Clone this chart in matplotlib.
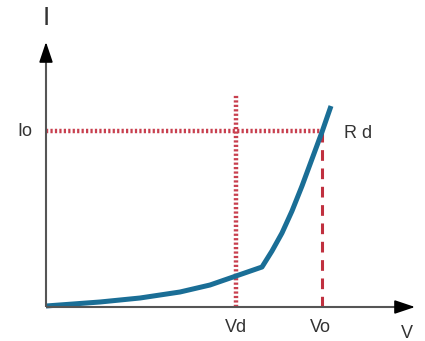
import matplotlib
matplotlib.use("Agg")
import matplotlib.pyplot as plt

plt.rcParams['font.family'] = ['Liberation Sans', 'DejaVu Sans']

# diode curve (offsets from the origin)
curve_v = [0, 54, 94, 134, 164, 190, 216, 226, 236, 246, 256, 266, 276, 285]
curve_i = [1, 5, 9, 15, 22, 31, 40, 56, 74, 96, 121, 148, 175, 201]

vd = 190
vo = 276
io = 176
vd_top = 213
v_end = 369
i_end = 265

blue = '#1a6e96'
red_dot = '#c8404f'
red_dash = '#c0303f'
axis_gray = '#555555'
text_col = '#333333'

fig = plt.figure(figsize=(4.25, 3.41), dpi=100)
ax = fig.add_axes([0, 0, 1, 1])
ax.set_xlim(-46, 379)
ax.set_ylim(-34, 307)
ax.axis('off')

# axes with arrow heads
ax.plot([0, v_end - 14], [0, 0], color=axis_gray, lw=1.5, solid_capstyle='butt', zorder=3)
ax.plot([0, 0], [0, i_end - 14], color=axis_gray, lw=1.5, solid_capstyle='butt', zorder=3)
ax.annotate('', xy=(v_end, 0), xytext=(v_end - 16, 0),
            arrowprops=dict(arrowstyle='-|>,head_length=1.25,head_width=0.42',
                            color='black', lw=1.2, shrinkA=0, shrinkB=0), zorder=4)
ax.annotate('', xy=(0, i_end), xytext=(0, i_end - 16),
            arrowprops=dict(arrowstyle='-|>,head_length=1.25,head_width=0.42',
                            color='black', lw=1.2, shrinkA=0, shrinkB=0), zorder=4)

# guide lines
ax.plot([0, vo], [io, io], color=red_dot, lw=3.2, ls=(0, (0.5, 0.5)), zorder=1)
ax.plot([vd, vd], [0, vd_top], color=red_dot, lw=3.2, ls=(0, (0.5, 0.5)), zorder=1)
ax.plot([vo, vo], [0, io], color=red_dash, lw=2.2, ls=(0, (3.5, 2.5)), zorder=1)

# curve
ax.plot(curve_v, curve_i, color=blue, lw=3.6, solid_capstyle='butt',
        solid_joinstyle='round', zorder=2)

# labels
ax.text(0, 289, 'I', fontsize=19, color=text_col, ha='center', va='center')
ax.text(-21, io - 1, 'Io', fontsize=13, color=text_col, ha='center', va='center')
ax.text(vd, -21, 'Vd', fontsize=13, color=text_col, ha='center', va='center')
ax.text(vo - 2, -21, 'Vo', fontsize=13, color=text_col, ha='center', va='center')
ax.text(361, -26, 'V', fontsize=13, color=text_col, ha='center', va='center')
ax.text(312, 174, 'R d', fontsize=13, color=text_col, ha='center', va='center')

fig.savefig('out.png', dpi=100)
